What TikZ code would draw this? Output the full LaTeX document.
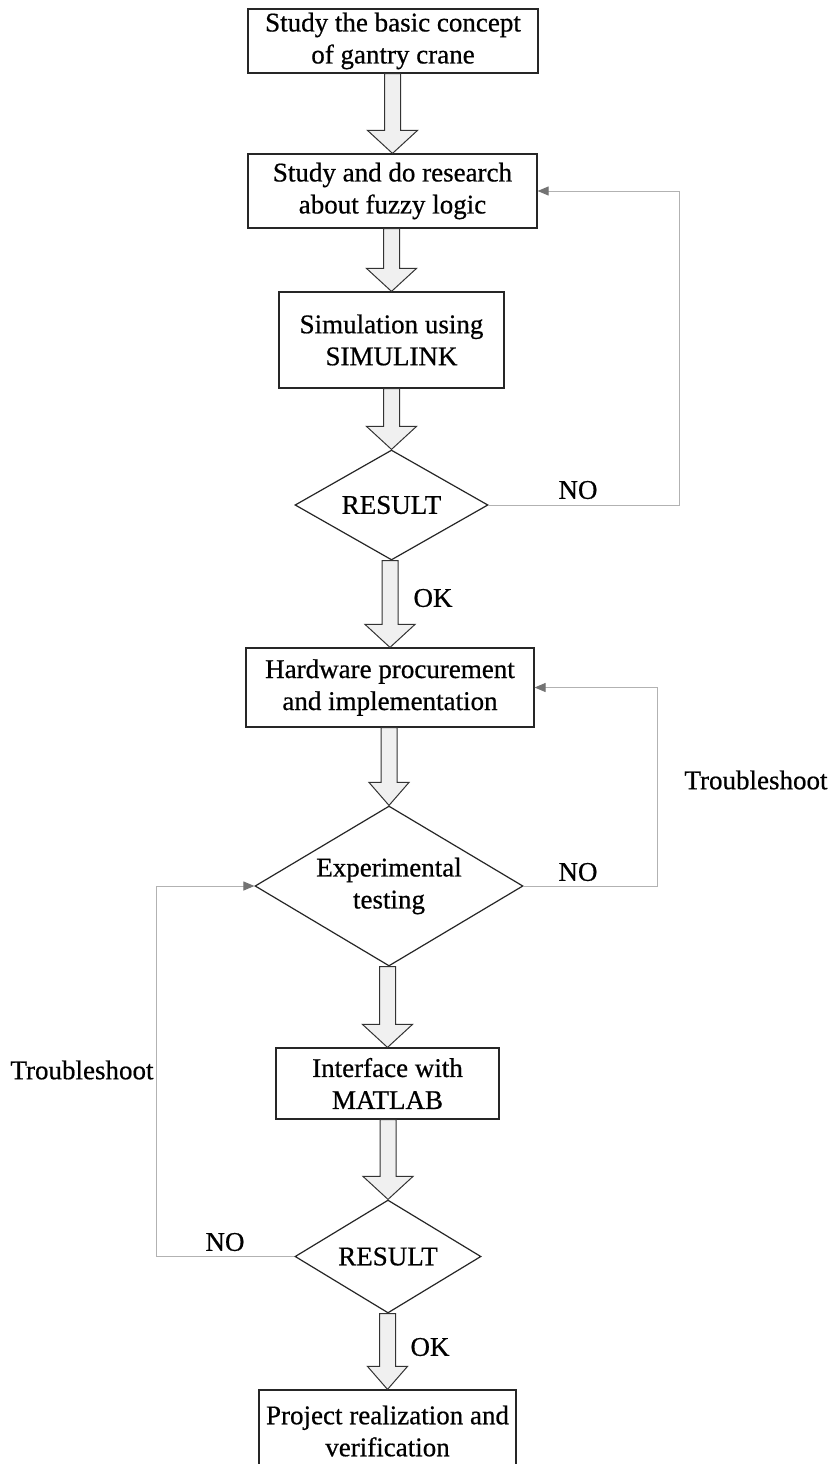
\documentclass[tikz,border=0pt]{standalone}
\usepackage{fontspec}
\setmainfont{Liberation Serif}
\newfontfamily\scanfont{Liberation Serif}[FakeBold=0.6]
\usetikzlibrary{shapes.geometric,arrows.meta,calc}
\newcommand{\blkarr}[3]{\filldraw[blk] let \p1=(#1.south), \p2=(#2.north) in
  (\x2-8pt,\y1) -- (\x2-8pt,\y2+23pt) -- (\x2-#3,\y2+23pt) -- (\x2,\y2) --
  (\x2+#3,\y2+23pt) -- (\x2+8pt,\y2+23pt) -- (\x2+8pt,\y1) -- cycle;}
\begin{document}
\begin{tikzpicture}[x=1pt,y=-1pt,
  txt/.style={font=\scanfont\fontsize{27}{32}\selectfont},
  box/.style={txt,draw=black!85,line width=1.2pt,fill=white,rectangle,inner sep=0pt,align=center},
  dec/.style={txt,draw=black!85,line width=1.2pt,fill=white,diamond,inner sep=0pt,align=center},
  lbl/.style={txt,inner sep=0pt},
  blk/.style={draw=black!80,line width=1pt,fill=black!6,line join=miter},
  fb/.style={draw=black!30,line width=1pt,-{Triangle[length=11pt,width=9pt,color=black!55]}}]
\fill[white] (0,0) rectangle (831,1464);
\useasboundingbox (0,0) rectangle (831,1464);
\clip (0,0) rectangle (831,1464);

\node[box,minimum width=290pt,minimum height=64pt] (b1) at (393,41) {Study the basic concept\\of gantry crane};
\node[box,minimum width=289pt,minimum height=74pt] (b2) at (392.5,191) {Study and do research\\about fuzzy logic};
\node[box,minimum width=225pt,minimum height=96pt] (b3) at (391.5,340) {Simulation using\\SIMULINK};
\node[dec,aspect=1.75,minimum width=193pt,minimum height=110pt] (d1) at (391.5,505) {RESULT};
\node[box,minimum width=288pt,minimum height=79pt] (b4) at (390,687.5) {Hardware procurement\\and implementation};
\node[dec,aspect=1.675,minimum width=268pt,minimum height=160pt] (d2) at (389,886) {Experimental\\testing};
\node[box,minimum width=223pt,minimum height=71pt] (b5) at (387.5,1083.5) {Interface with\\MATLAB};
\node[dec,aspect=1.65,minimum width=186pt,minimum height=113pt] (d3) at (388,1256.5) {RESULT};
\node[box,minimum width=257pt,minimum height=82pt] (b6) at (387.5,1431) {Project realization and\\verification};

\blkarr{b1}{b2}{25pt}
\blkarr{b2}{b3}{25pt}
\blkarr{b3}{d1}{25pt}
\blkarr{d1}{b4}{25pt}
\blkarr{b4}{d2}{20pt}
\blkarr{d2}{b5}{25pt}
\blkarr{b5}{d3}{25pt}
\blkarr{d3}{b6}{20pt}

\draw[fb] (d1.east) -- ++(191,0) |- (b2.east);
\draw[fb] (d2.east) -- ++(134,0) |- (b4.east);
\draw[fb] (d3.west) -- ++(-138,0) |- (d2.west);

\node[lbl] (no1) at (578,490) {NO};
\node[lbl] (ok1) at (433,598) {OK};
\node[lbl] (ts1) at (756,780) {Troubleshoot};
\node[lbl] (no2) at (578,872) {NO};
\node[lbl] (ts2) at (82,1070) {Troubleshoot};
\node[lbl] (no3) at (225,1242) {NO};
\node[lbl] (ok2) at (430,1347) {OK};
\end{tikzpicture}
\end{document}
